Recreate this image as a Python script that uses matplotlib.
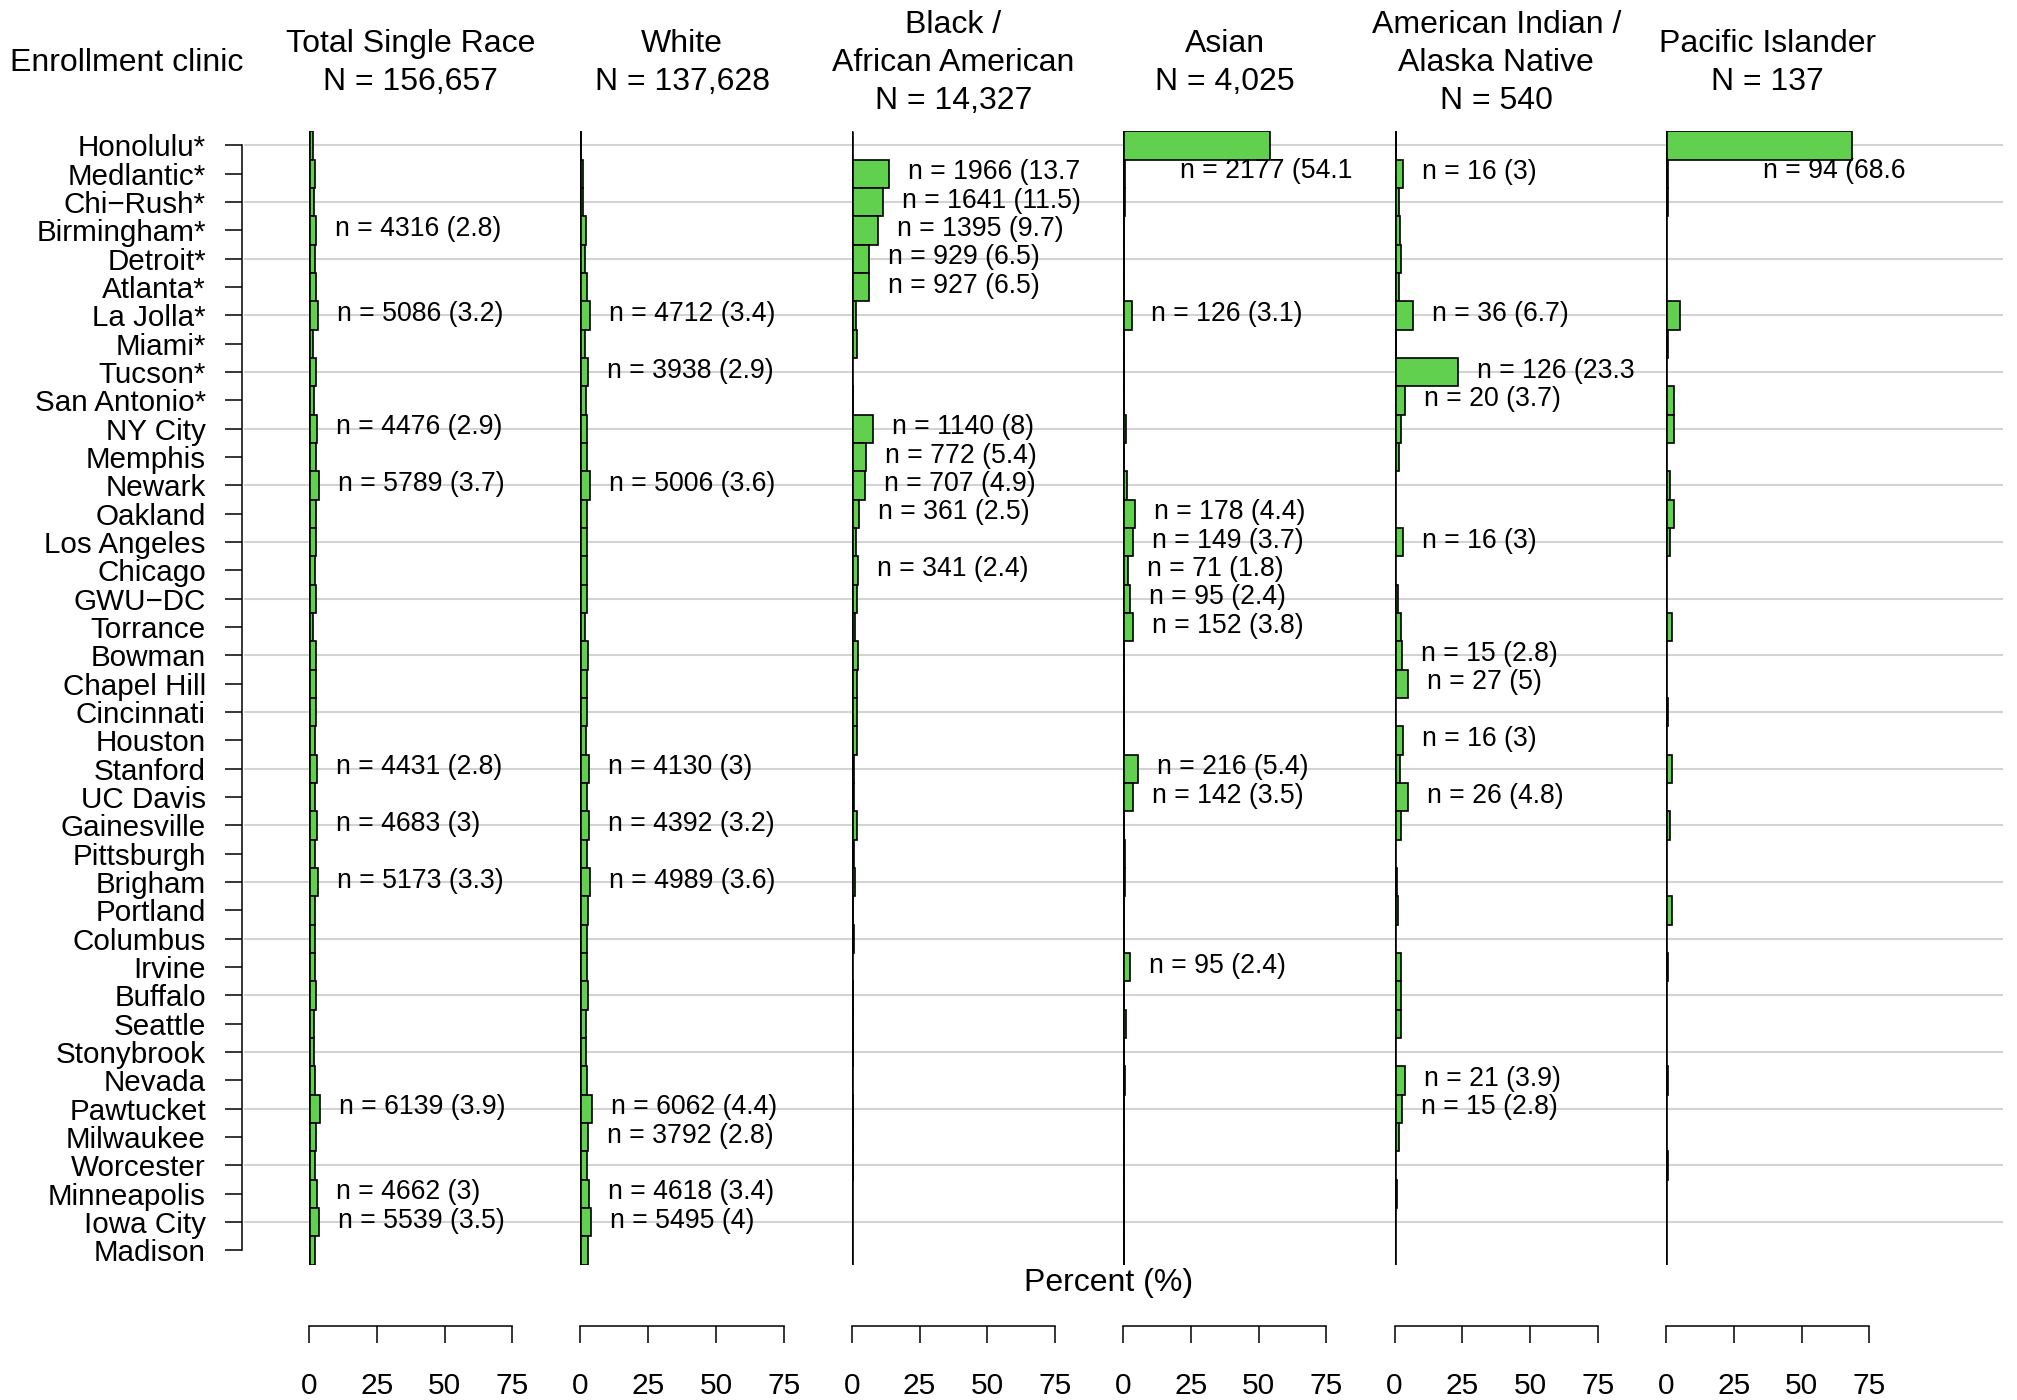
import matplotlib
matplotlib.use("Agg")
import matplotlib.pyplot as plt
import numpy as np

# ---------------- data ----------------
clinics = ["Honolulu*", "Medlantic*", "Chi\u2212Rush*", "Birmingham*", "Detroit*", "Atlanta*",
           "La Jolla*", "Miami*", "Tucson*", "San Antonio*", "NY City", "Memphis", "Newark",
           "Oakland", "Los Angeles", "Chicago", "GWU\u2212DC", "Torrance", "Bowman", "Chapel Hill",
           "Cincinnati", "Houston", "Stanford", "UC Davis", "Gainesville", "Pittsburgh", "Brigham",
           "Portland", "Columbus", "Irvine", "Buffalo", "Seattle", "Stonybrook", "Nevada",
           "Pawtucket", "Milwaukee", "Worcester", "Minneapolis", "Iowa City", "Madison"]

group_titles = ["Total Single Race", "White", "Black /\nAfrican American", "Asian",
                "American Indian /\nAlaska Native", "Pacific Islander"]
group_N = [156657, 137628, 14327, 4025, 540, 137]

n_total = [2563, 3403, 2975, 4316, 3251, 4246, 5086, 2474, 4094, 3046,
           4476, 4141, 5789, 3793, 3907, 3562, 3881, 2497, 4045, 3787,
           3791, 3236, 4431, 3618, 4683, 3345, 5173, 3739, 3480, 3478,
           3802, 3007, 2980, 3424, 6139, 3881, 3411, 4662, 5539, 3730]
n_white = [280, 1400, 1300, 2908, 2300, 3300, 4712, 2200, 3938, 2950,
           3296, 3350, 5006, 3250, 3500, 3150, 3500, 2150, 3700, 3450,
           3500, 2950, 4130, 3350, 4392, 3200, 4989, 3650, 3350, 3350,
           3700, 2900, 2900, 3350, 6062, 3792, 3350, 4618, 5495, 3700]
n_black = [10, 1966, 1641, 1395, 929, 927, 200, 260, 15, 60,
           1140, 772, 707, 361, 240, 341, 280, 180, 320, 300,
           280, 260, 100, 100, 300, 120, 150, 70, 120, 20,
           80, 50, 70, 20, 60, 70, 50, 25, 20, 20]
n_asian = [2177, 20, 25, 10, 10, 10, 126, 10, 15, 12,
           35, 10, 60, 178, 149, 71, 95, 152, 10, 10,
           10, 10, 216, 142, 10, 25, 28, 10, 10, 95,
           10, 45, 10, 32, 19, 10, 10, 16, 15, 10]
n_aian = [2, 16, 8, 11, 12, 9, 36, 3, 126, 20,
          13, 9, 0, 0, 16, 0, 6, 12, 15, 27,
          0, 16, 11, 26, 12, 0, 5, 6, 0, 12,
          12, 12, 0, 21, 15, 9, 0, 5, 1, 0]
n_pi = [94, 1, 1, 0, 0, 0, 7, 1, 0, 4,
        4, 0, 2, 4, 2, 0, 0, 3, 0, 0,
        1, 0, 3, 0, 2, 0, 0, 3, 0, 1,
        0, 0, 0, 1, 0, 0, 1, 0, 0, 0]

counts = [n_total, n_white, n_black, n_asian, n_aian, n_pi]
x_ticks = [0, 25, 50, 75]

# ---------------- layout helpers (pixels of a 2017 x 1400 canvas) ----------------
W, H = 2017, 1400
def fx(px):
    return px / W
def fy(py):
    return 1 - py / H

FONT = ["Liberation Sans", "DejaVu Sans"]
plt.rcParams["font.family"] = FONT

fig = plt.figure(figsize=(W / 100, H / 100), dpi=100)
fig.patch.set_facecolor("white")

nrow = len(clinics)
row_top_px = 145.4 - 14.17          # top edge of first bar
row_bot_px = 1250.4 + 14.17         # bottom edge of last bar
ax_bottom = fy(row_bot_px)
ax_height = (row_bot_px - row_top_px) / H
px_per_pct = 2.71
zero0 = 309.0
panel_step = 271.4
xmax_panel = 90.0

GREEN = "#61D04F"

# background grid (every other row, spanning all panels)
bg = fig.add_axes([fx(244), ax_bottom, fx(2003) - fx(244), ax_height])
bg.set_xlim(0, 1)
bg.set_ylim(nrow - 0.5, -0.5)
for r in range(0, nrow, 2):
    bg.axhline(r, color="#d3d3d3", lw=1.5, zorder=0)
bg.axis("off")

# clinic axis
yax = fig.add_axes([fx(242), ax_bottom, 0.0005, ax_height])
yax.set_ylim(nrow - 0.5, -0.5)
yax.set_xlim(0, 1)
yax.patch.set_alpha(0)
for s in ["top", "right", "bottom"]:
    yax.spines[s].set_visible(False)
yax.spines["left"].set_bounds(0, nrow - 1)
yax.spines["left"].set_linewidth(1.1)
yax.set_yticks(range(nrow))
yax.set_yticklabels(clinics, fontsize=21.3)
yax.tick_params(axis="y", length=12, width=1.1, pad=14)
yax.set_xticks([])

rows = np.arange(nrow)
for i, (cnt, N, title) in enumerate(zip(counts, group_N, group_titles)):
    zero_px = zero0 + i * panel_step
    ax = fig.add_axes([fx(zero_px), ax_bottom, xmax_panel * px_per_pct / W, ax_height])
    ax.set_xlim(0, xmax_panel)
    ax.set_ylim(nrow - 0.5, -0.5)
    ax.patch.set_alpha(0)
    ax.axis("off")
    cnt = np.asarray(cnt)
    pct = cnt / N * 100
    ax.barh(rows, pct, height=1.0, color=GREEN, edgecolor="black", linewidth=1.2, zorder=3)
    ax.plot([0, 0], [-0.5, nrow - 0.5], color="black", lw=1.9, zorder=4,
            solid_capstyle="butt")

    # labels: ten largest counts (ties kept), only when n >= 15
    thresh = np.sort(cnt)[::-1][9]
    for r in rows:
        n = cnt[r]
        if n >= thresh and n >= 15:
            p = round(pct[r], 1)
            txt = f"n = {n} ({p:g}" + (")" if p < 12 else "")
            if pct[r] > 40:
                lx, ly = pct[r] - 33, r + 0.9
            else:
                lx, ly = pct[r] + 7, r - 0.05
            ax.text(lx, ly, txt, fontsize=19.2, ha="left", va="center", clip_on=False, zorder=5)

    # header
    lines = (title + f"\nN = {N:,}").split("\n")
    m = len(lines)
    cx = zero_px + 37.5 * px_per_pct
    for k, line in enumerate(lines):
        ypx = 63 + (k - (m - 1) / 2) * 38.3
        fig.text(fx(cx), fy(ypx), line, fontsize=23, ha="center", va="center")

    # bottom percent axis
    bax = fig.add_axes([fx(zero_px), fy(1326), xmax_panel * px_per_pct / W, 0.0005])
    bax.set_xlim(0, xmax_panel)
    bax.patch.set_alpha(0)
    for s in ["top", "right", "left"]:
        bax.spines[s].set_visible(False)
    bax.spines["bottom"].set_bounds(x_ticks[0], x_ticks[-1])
    bax.spines["bottom"].set_linewidth(1.1)
    bax.set_xticks(x_ticks)
    bax.set_xticklabels([str(t) for t in x_ticks], fontsize=21.5)
    bax.tick_params(axis="x", length=12, width=1.1, pad=21)
    bax.set_yticks([])

fig.text(fx(126.7), fy(63), "Enrollment clinic", fontsize=23, ha="center", va="center")
fig.text(fx(1109), fy(1283.5), "Percent (%)", fontsize=23, ha="center", va="center")

fig.savefig("out.png", dpi=100, facecolor="white")
